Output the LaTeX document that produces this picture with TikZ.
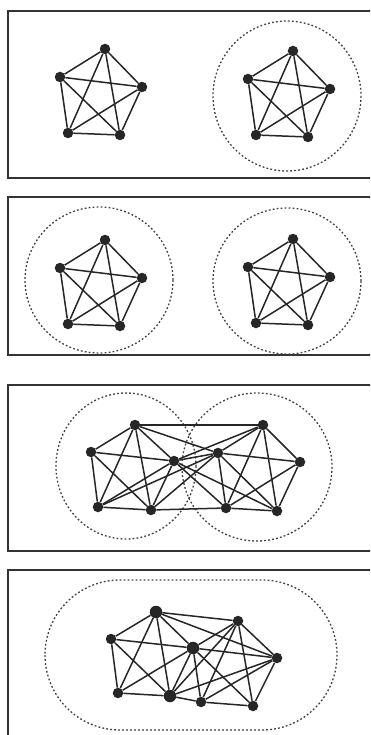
\documentclass[tikz,border=0pt]{standalone}
\begin{document}
\begin{tikzpicture}[x=1pt,y=-1pt,
  panel/.style={draw=black!80,line width=1.1pt},
  vtx/.style={circle,fill=black!85,inner sep=0pt,minimum size=10.5pt},
  bigvtx/.style={circle,fill=black!85,inner sep=0pt,minimum size=12.5pt},
  edge/.style={draw=black!85,line width=1.5pt},
  halo/.style={draw=black!75,line width=1.3pt,dash pattern=on 1.8pt off 2.2pt}]
\useasboundingbox (0,0) rectangle (370,735);
\clip (0,0) rectangle (370,735);
% panels
\draw[panel] (8,11) rectangle (380,178);
\draw[panel] (8,197) rectangle (380,355);
\draw[panel] (8,385) rectangle (380,551);
\draw[panel] (8,570) rectangle (380,760);
% halos
\draw[halo] (287,96) ellipse [x radius=74, y radius=75];
\draw[halo] (99,280) ellipse [x radius=74, y radius=73];
\draw[halo] (287,281) ellipse [x radius=74, y radius=73];
\draw[halo] (126,466) ellipse [x radius=70, y radius=73];
\draw[halo] (257,467) ellipse [x radius=75, y radius=74];
\draw[halo,rounded corners=75pt] (45,580) rectangle (337,730);
% panel 1 and 2 pentagons
\foreach \g/\x/\y in {ga/0/0, gb/188/2, gc/0/191, gd/188/190}{
  \node[vtx] (\g a) at (105+\x,49+\y) {};
  \node[vtx] (\g b) at (60+\x,77+\y) {};
  \node[vtx] (\g c) at (142+\x,87+\y) {};
  \node[vtx] (\g d) at (68+\x,133+\y) {};
  \node[vtx] (\g e) at (120+\x,135+\y) {};
  \foreach \u/\v in {a/b,a/c,a/d,a/e,b/c,b/d,b/e,c/d,c/e,d/e}
    \draw[edge] (\g\u) -- (\g\v);
}
% panel 3
\node[vtx] (A) at (135,425) {};
\node[vtx] (B) at (91,452) {};
\node[vtx] (C) at (174,461) {};
\node[vtx] (D) at (218,453) {};
\node[vtx] (E) at (263,425) {};
\node[vtx] (F) at (300,462) {};
\node[vtx] (G) at (98,507) {};
\node[vtx] (H) at (151,510) {};
\node[vtx] (I) at (226,508) {};
\node[vtx] (J) at (277,511) {};
\foreach \u/\v in {A/B,A/C,A/G,A/H,B/C,B/G,B/H,C/G,C/H,G/H,
                   E/D,E/F,E/I,E/J,D/F,D/I,D/J,F/I,F/J,I/J,
                   A/E,H/I,A/D,C/E,C/D,C/I,C/J,D/H,D/G}
  \draw[edge] (\u) -- (\v);
% panel 4
\node[bigvtx] (P1) at (156,612) {};
\node[vtx] (P2) at (111,639) {};
\node[bigvtx] (P3) at (193,648) {};
\node[vtx] (P4) at (238,621) {};
\node[vtx] (P5) at (277,658) {};
\node[vtx] (P6) at (118,693) {};
\node[bigvtx] (P7) at (170,696) {};
\node[vtx] (P8) at (201,702) {};
\node[vtx] (P9) at (253,706) {};
\foreach \u/\v in {P1/P2,P1/P3,P1/P6,P1/P7,P2/P3,P2/P6,P2/P7,P3/P6,P3/P7,P6/P7,
                   P3/P4,P3/P5,P3/P8,P3/P9,P4/P5,P4/P8,P4/P9,P5/P8,P5/P9,P8/P9,
                   P1/P4,P1/P5,P7/P8,P7/P4,P7/P5}
  \draw[edge] (\u) -- (\v);
\end{tikzpicture}
\end{document}
